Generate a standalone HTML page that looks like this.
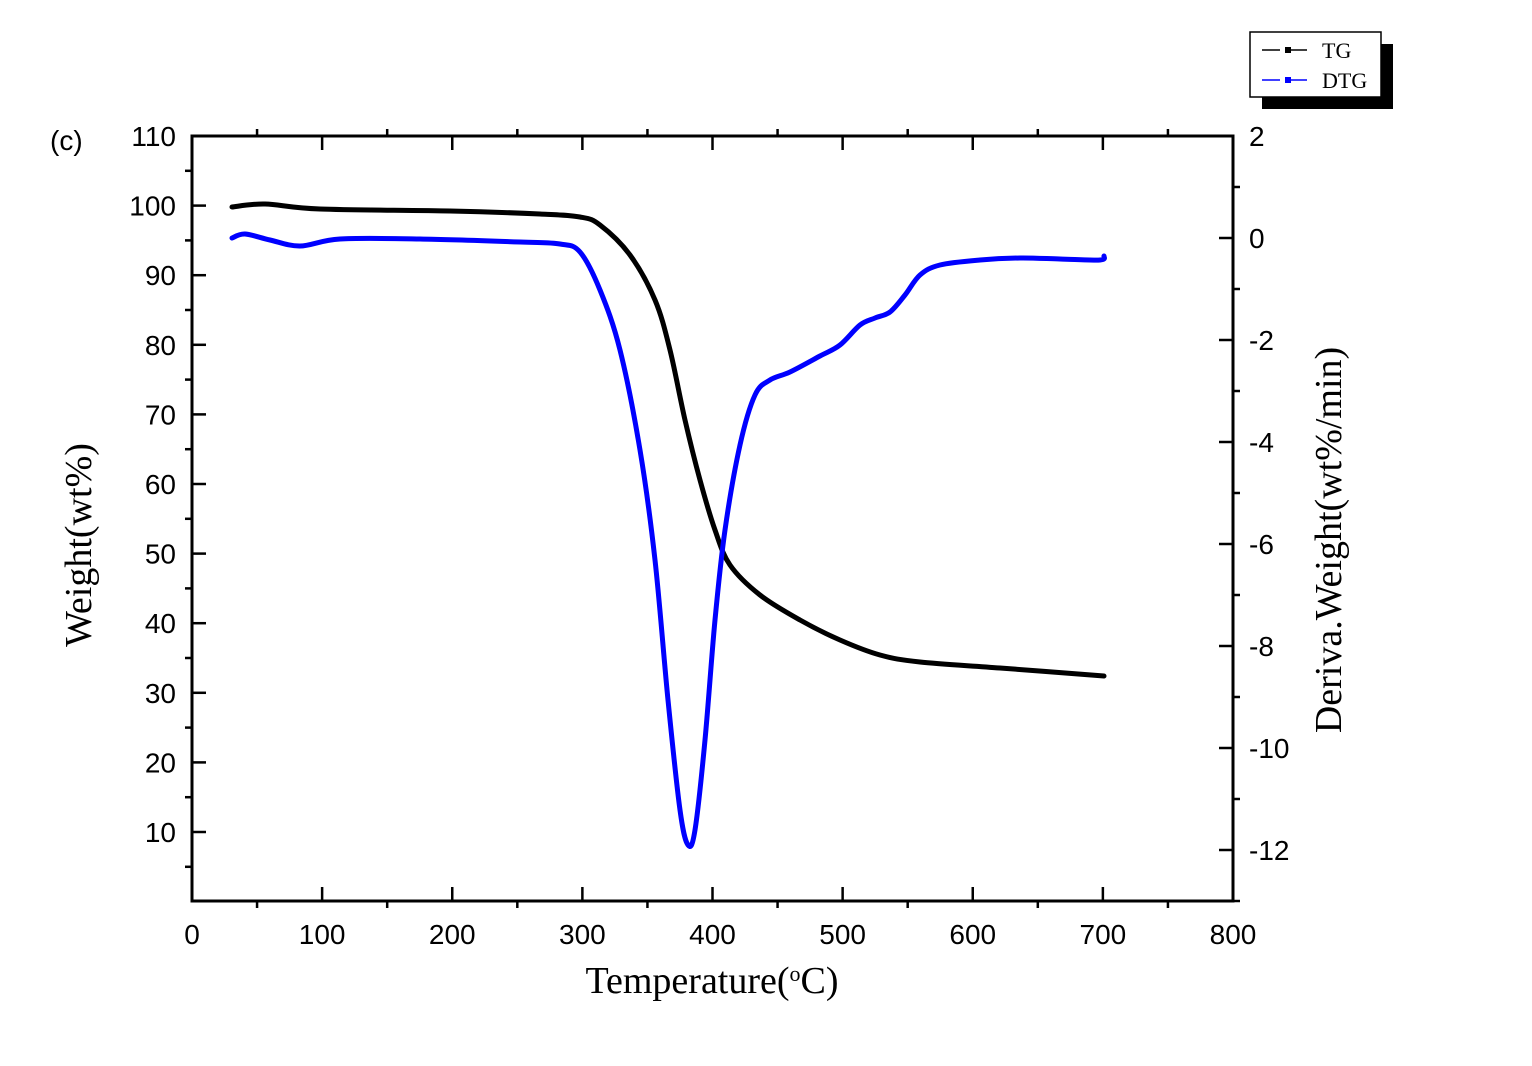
<!DOCTYPE html>
<html><head><meta charset="utf-8"><style>
body{margin:0;background:#fff;width:1532px;height:1066px;overflow:hidden}
svg{display:block}
.t{font-family:"Liberation Sans",sans-serif;font-size:28px;fill:#000}
.s{font-family:"Liberation Serif",serif;fill:#000}
</style></head><body>
<svg id="g" width="1532" height="1066" xmlns="http://www.w3.org/2000/svg">
<rect x="192" y="136" width="1041" height="765" fill="none" stroke="#000" stroke-width="3"/>
<text class="t" x="50" y="150" font-size="36">(c)</text>
<text class="s" x="712" y="993" font-size="38" text-anchor="middle">Temperature(<tspan baseline-shift="super" font-size="22">o</tspan>C)</text>
<text class="s" x="0" y="0" font-size="38" text-anchor="middle" transform="translate(91,545) rotate(-90)">Weight(wt%)</text>
<text class="s" x="0" y="0" font-size="38" text-anchor="middle" transform="translate(1341,540) rotate(-90)">Deriva.Weight(wt%/min)</text>
<rect x="1262" y="44" width="131" height="65" fill="#000"/>
<rect x="1250" y="32" width="131" height="65" fill="#fff" stroke="#000" stroke-width="1.5"/>
<line x1="1262" y1="50" x2="1316" y2="50" stroke="#000" stroke-width="1.5" stroke-dasharray="18,9"/>
<rect x="1285" y="47" width="6" height="6" fill="#000"/>
<text class="s" x="1322" y="58" font-size="22">TG</text>
<line x1="1262" y1="80" x2="1316" y2="80" stroke="#00f" stroke-width="1.5" stroke-dasharray="18,9"/>
<rect x="1285" y="77" width="6" height="6" fill="#00f"/>
<text class="s" x="1322" y="88" font-size="22">DTG</text>
</svg>
<script>
var s=document.getElementById('g'),ns='http://www.w3.org/2000/svg';
function el(n,a,t){var e=document.createElementNS(ns,n);for(var k in a)e.setAttribute(k,a[k]);if(t!=null)e.textContent=t;s.appendChild(e);}
function ln(a,b,c,d){el('line',{x1:a,y1:b,x2:c,y2:d,stroke:'#000','stroke-width':2.5});}
function X(v){return 192+v*1041/800;}
for(var v=0;v<=800;v+=50){var x=X(v);if(v%100==0){ln(x,901,x,887);ln(x,136,x,150);el('text',{'class':'t',x:x,y:944,'text-anchor':'middle'},v);}else{ln(x,901,x,908);ln(x,136,x,129);}}
function YL(v){return 136+(110-v)*6.96;}
for(var v=5;v<=110;v+=5){var y=YL(v);if(v%10==0){ln(192,y,206,y);el('text',{'class':'t',x:176,y:y+10,'text-anchor':'end'},v);}else{ln(192,y,185,y);}}
function YR(v){return 238-v*51;}
for(var v=-13;v<=2;v+=1){var y=YR(v);if(y<136||y>901)continue;if(v%2==0){ln(1233,y,1219,y);el('text',{'class':'t',x:1249,y:y+10},v);}else{ln(1233,y,1240,y);}}
function curve(p,c){var d='M'+p[0][0]+','+p[0][1];for(var i=0;i<p.length-1;i++){var p0=p[i-1]||p[i],p1=p[i],p2=p[i+1],p3=p[i+2]||p2;d+=' C'+(p1[0]+(p2[0]-p0[0])/6)+','+(p1[1]+(p2[1]-p0[1])/6)+' '+(p2[0]-(p3[0]-p1[0])/6)+','+(p2[1]-(p3[1]-p1[1])/6)+' '+p2[0]+','+p2[1];}
el('path',{d:d,fill:'none',stroke:c,'stroke-width':5,'stroke-linejoin':'round','stroke-linecap':'round'});}
curve([[232,207],[265,204],[320,209],[450,211],[540,214],[580,217],[600,225],[630,255],[655,300],[670,350],[685,420],[700,480],[715,530],[730,565],[760,595],[800,620],[840,640],[880,655],[920,662],[1000,668],[1104,676]],'#000');
curve([[232,238],[245,234],[270,240],[300,246],[340,239],[420,239],[520,242],[560,244],[580,252],[600,290],[620,350],[640,450],[655,560],[668,700],[680,810],[688,845],[695,830],[705,740],[715,620],[725,530],[740,445],[755,395],[770,380],[790,372],[820,356],[840,345],[860,325],[875,318],[890,312],[905,295],[920,275],[940,265],[980,260],[1020,258],[1060,259],[1100,260],[1104,256]],'#00f');
</script>
</body></html>
